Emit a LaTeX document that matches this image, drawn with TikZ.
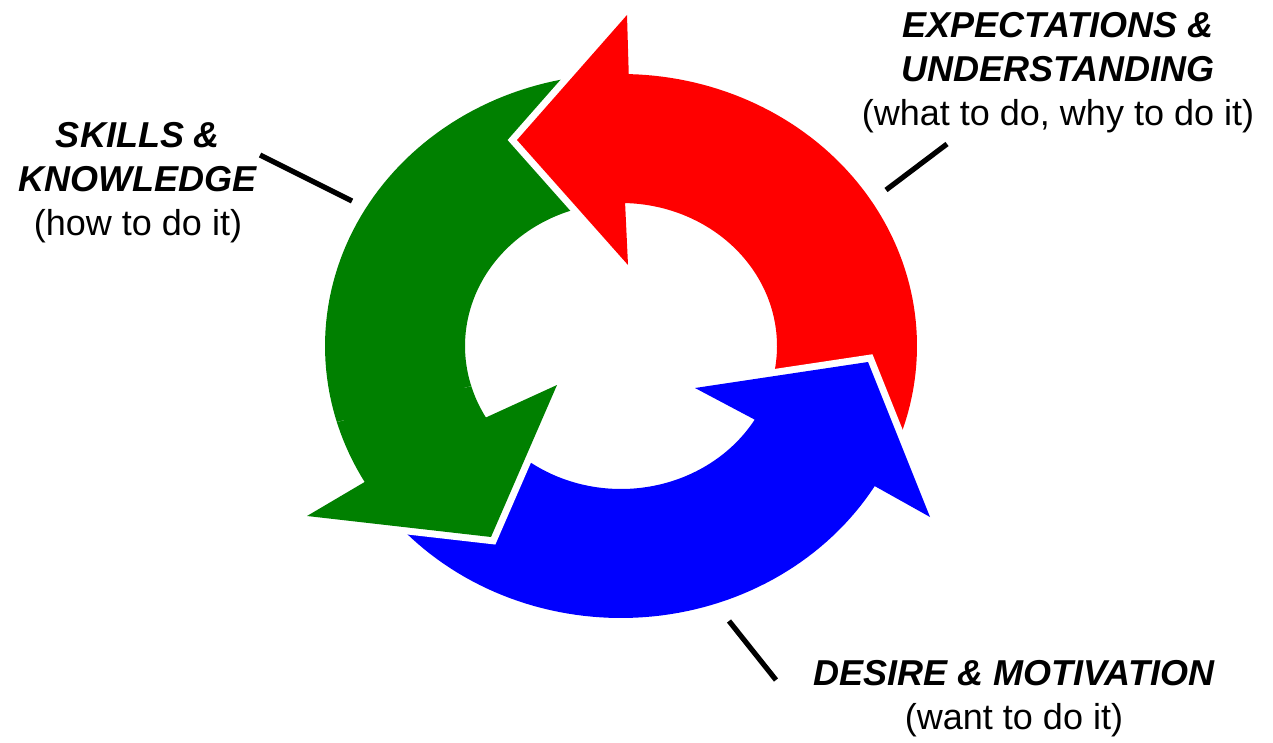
\documentclass[tikz,border=0pt]{standalone}
\usepackage{fontspec}
\setmainfont{Liberation Sans}
\definecolor{cred}{RGB}{255,0,0}
\definecolor{cgreen}{RGB}{0,128,0}
\definecolor{cblue}{RGB}{0,0,255}
\tikzset{
  arrowbody/.style={fill=#1, preaction={draw=white, line width=7pt, line join=miter}},
  leader/.style={draw=black, line width=2.6pt},
  label/.style={align=center, font=\fontsize{18}{22}\selectfont, inner sep=0pt},
}
\newcommand{\ttl}[1]{\textbf{\textit{#1}}}
\begin{document}
\begin{tikzpicture}[x=0.5pt,y=-0.5pt]
\useasboundingbox (0,0) rectangle (1273,743);
% green arrow (first pass)
\path[arrowbody=cgreen]
  plot[domain=95:210,samples=70] ({621+296*cos(\x)},{346-272*sin(\x)})
  -- (307,516) -- (491,537) -- (557,385)
  -- plot[domain=210:95,samples=70] ({621+156*cos(\x)},{346-143*sin(\x)}) -- cycle;
% red arrow
\path[arrowbody=cred]
  plot[domain=-22:88.5,samples=70] ({621+296*cos(\x)},{346-272*sin(\x)})
  -- (627,15) -- (517,140) -- (628,265)
  -- plot[domain=88.5:-12,samples=70] ({621+156*cos(\x)},{346-143*sin(\x)}) -- cycle;
% blue arrow
\path[arrowbody=cblue]
  plot[domain=215:329,samples=70] ({621+296*cos(\x)},{346-272*sin(\x)})
  -- (930,517) -- (868,362) -- (695,388)
  -- plot[domain=329:225,samples=70] ({621+156*cos(\x)},{346-143*sin(\x)}) -- cycle;
% green arrow head again, over the blue tail
\begin{scope}
\clip (621,346) -- (-345,605) -- (-22,1112) -- (534,1342) -- cycle;
\path[arrowbody=cgreen]
  plot[domain=95:210,samples=70] ({621+296*cos(\x)},{346-272*sin(\x)})
  -- (307,516) -- (491,537) -- (557,385)
  -- plot[domain=210:95,samples=70] ({621+156*cos(\x)},{346-143*sin(\x)}) -- cycle;
\end{scope}
% labels
\node[label] (skills) at (138,183) {\ttl{SKILLS \&}\\\ttl{KNOWLEDGE}\\(how to do it)};
\node[label] (expect) at (1058,73) {\ttl{EXPECTATIONS \&}\\\ttl{UNDERSTANDING}\\(what to do, why to do it)};
\node[label] (desire) at (1014,699) {\ttl{DESIRE \& MOTIVATION}\\(want to do it)};
% leader lines
\coordinate (sA) at (260,155); \coordinate (sB) at (352,201);
\coordinate (eA) at (947,144); \coordinate (eB) at (886,190);
\coordinate (dA) at (729,621); \coordinate (dB) at (776,680);
\draw[leader] (sA) -- (sB);
\draw[leader] (eA) -- (eB);
\draw[leader] (dA) -- (dB);
\end{tikzpicture}
\end{document}
